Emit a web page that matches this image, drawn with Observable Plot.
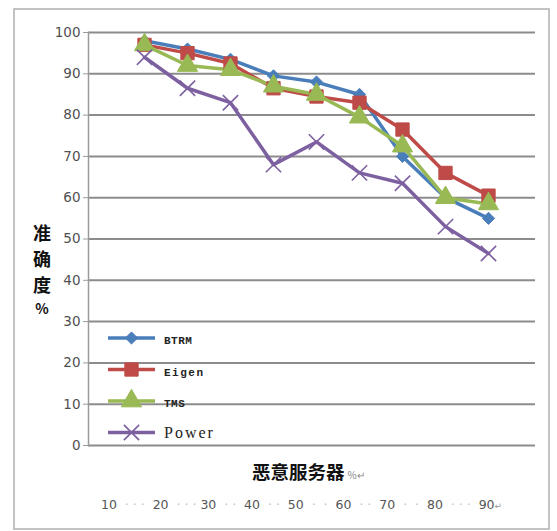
<!DOCTYPE html>
<html>
<head>
<meta charset="utf-8">
<script src="https://cdn.jsdelivr.net/npm/d3@7"></script>
<script src="https://cdn.jsdelivr.net/npm/@observablehq/plot@0.6"></script>
<style>
  body { margin: 0; background: #fff; }
  #chart { width: 557px; height: 531px; }
</style>
</head>
<body>
<div id="chart"></div>
<script>
// Share of malicious servers (%) on the x axis
const maliciousShare = [10, 20, 30, 40, 50, 60, 70, 80, 90];

// Accuracy (%) of each trust model
const btrm  = [98, 96, 93.5, 89.5, 88, 85, 70, 60, 55];
const eigen = [97, 95, 92.5, 86.5, 84.5, 83, 76.5, 66, 60.5];
const tms   = [97, 92, 91, 87, 85, 79.5, 72.5, 60, 58.5];
const power = [94, 86.5, 83, 68, 73.5, 66, 63.5, 53, 46.5];

const seriesNames   = ["BTRM", "Eigen", "TMS", "Power"];
const seriesColors  = ["#4a7ebb", "#be4b48", "#98b954", "#7d60a0"];
const seriesSymbols = ["diamond2", "square", "triangle", "times"];
const seriesRadius  = [5.5, 7.5, 7.5, 7];

const yTicks = [0, 10, 20, 30, 40, 50, 60, 70, 80, 90, 100];
const bottomLabels = ["10", "20", "30", "40", "50", "60", "70", "80", "90"];
const bottomLeaders = [
  "  \u00b7 \u00b7 \u00b7  ", "  \u00b7 \u00b7 \u00b7 ", "  \u00b7 \u00b7  ", "  \u00b7 \u00b7  ",
  "  \u00b7  \u00b7  ", "  \u00b7 \u00b7  ", "  \u00b7  \u00b7  ", "  \u00b7 \u00b7 \u00b7  "
];

const yTitle = ["准", "确", "度", "%"];
const xTitle = "恶意服务器";

// Long table built from the arrays
const valuesBySeries = [btrm, eigen, tms, power];
const rows = seriesNames.flatMap((name, i) =>
  maliciousShare.map((x, j) => ({ series: name, x: String(x), y: valuesBySeries[i][j] }))
);

const marks = [
  Plot.gridY(yTicks, { stroke: "#8c8c8c", strokeOpacity: 1, strokeWidth: 2 }),
  Plot.axisY(yTicks, {
    tickSize: 5, tickPadding: 3, stroke: "#9a9a9a",
    fontSize: 13.5, fill: "#505050", fontFamily: "DejaVu Sans", label: null
  }),
  Plot.frame({ anchor: "left", stroke: "#9a9a9a", strokeWidth: 1.5 })
];
seriesNames.forEach((name, i) => {
  const data = rows.filter(d => d.series === name);
  marks.push(Plot.line(data, { x: "x", y: "y", stroke: seriesColors[i], strokeWidth: 3.5 }));
});
seriesNames.forEach((name, i) => {
  const data = rows.filter(d => d.series === name);
  const isStroke = seriesSymbols[i] === "times";
  marks.push(Plot.dot(data, {
    x: "x", y: "y", r: seriesRadius[i], symbol: () => seriesSymbols[i],
    fill: isStroke ? "none" : seriesColors[i],
    stroke: seriesColors[i], strokeWidth: isStroke ? 1.6 : 1
  }));
});

const chart = Plot.plot({
  width: 557,
  height: 531,
  marginLeft: 88,
  marginRight: 22,
  marginTop: 32,
  marginBottom: 86,
  style: { background: "#fff", overflow: "visible" },
  x: { type: "point", domain: maliciousShare.map(String), range: [118, 513], axis: null },
  y: { domain: [0, 100], axis: null },
  symbol: { type: "identity" },
  marks
});

document.getElementById("chart").append(chart);

const svg = d3.select(chart);

// Outer border of the figure
svg.insert("rect", ":first-child")
  .attr("x", 14).attr("y", 9).attr("width", 535).attr("height", 520)
  .attr("fill", "#fff").attr("stroke", "#b0b0b0").attr("stroke-width", 1.5);

// Vertical y title, one character per row
svg.append("g")
  .attr("font-family", "Noto Sans CJK SC").attr("font-weight", "bold")
  .attr("fill", "#111").attr("text-anchor", "middle")
  .selectAll("text").data(yTitle).join("text")
  .attr("x", 42).attr("y", (d, i) => d === "%" ? 314 : 240 + i * 26)
  .attr("font-size", d => d === "%" ? 14 : 18)
  .text(d => d);

// Legend inside the plot area
const legend = svg.append("g").attr("text-anchor", "start");
seriesNames.forEach((name, i) => {
  const g = legend.append("g").attr("transform", `translate(108,${338 + i * 31.5})`);
  g.append("line").attr("x1", 0).attr("x2", 47).attr("stroke", seriesColors[i]).attr("stroke-width", 3.5);
  const sym = d3.symbol(
    [d3.symbolDiamond2, d3.symbolSquare, d3.symbolTriangle, d3.symbolTimes][i],
    Math.PI * seriesRadius[i] * seriesRadius[i]
  )();
  g.append("path").attr("d", sym).attr("transform", "translate(23.5,0)")
    .attr("fill", i === 3 ? "none" : seriesColors[i])
    .attr("stroke", seriesColors[i]).attr("stroke-width", i === 3 ? 1.6 : 1);
  g.append("text").attr("x", 56).attr("y", i === 3 ? 5 : 6)
    .attr("font-family", i === 3 ? "Liberation Serif" : "Liberation Mono")
    .attr("font-size", i === 3 ? 16 : 11)
    .attr("font-weight", i === 3 ? "normal" : "bold")
    .attr("letter-spacing", i === 3 ? 2 : i === 1 ? 1.5 : 0.5)
    .attr("fill", "#222")
    .text(name);
});

// X title with a trailing unit
const xt = svg.append("text").attr("x", 252).attr("y", 479)
  .attr("text-anchor", "start").attr("font-family", "Noto Sans CJK SC");
xt.append("tspan").attr("font-weight", "bold").attr("font-size", 18.5).attr("fill", "#111").text(xTitle);
xt.append("tspan").attr("font-size", 10).attr("fill", "#888").attr("dx", 3).text("%\u21b5");

// Category labels below the chart, separated by dotted leaders
const bl = svg.append("text").attr("x", 101).attr("y", 509)
  .attr("text-anchor", "start")
  .attr("font-family", "DejaVu Sans").attr("font-size", 12.5)
  .attr("xml:space", "preserve").style("white-space", "pre");
bottomLabels.forEach((lab, i) => {
  bl.append("tspan").attr("fill", "#555").text(lab);
  if (i < bottomLeaders.length) {
    bl.append("tspan").attr("fill", "#bdbdbd").text(bottomLeaders[i]);
  }
});
bl.append("tspan").attr("fill", "#999").attr("font-size", 9).text("\u21b5");
</script>
</body>
</html>
